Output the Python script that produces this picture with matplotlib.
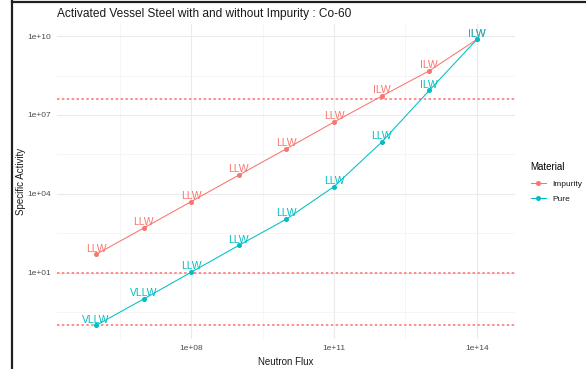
import numpy as np
import matplotlib
matplotlib.use("Agg")
import matplotlib.pyplot as plt
from matplotlib.lines import Line2D

plt.rcParams['font.family'] = ['Liberation Sans', 'DejaVu Sans']

# Neutron flux values and specific activity per material
flux = [1e6, 1e7, 1e8, 1e9, 1e10, 1e11, 1e12, 1e13, 1e14]
impurity_activity = [50, 500, 5100, 5.2e4, 5.2e5, 5.4e6, 5.2e7, 4.8e8, 7.5e9]
pure_activity = [0.1, 1.0, 10.5, 110, 1100, 1.9e4, 9.3e5, 8.6e7, 7.5e9]
impurity_class = ["LLW", "LLW", "LLW", "LLW", "LLW", "LLW", "ILW", "ILW", "ILW"]
pure_class = ["VLLW", "VLLW", "LLW", "LLW", "LLW", "LLW", "LLW", "ILW", "ILW"]
thresholds = [0.1, 10, 4e7]

materials = ["Impurity", "Pure"]
colors = {"Impurity": "#F8766D", "Pure": "#00BFC4"}

W, H = 586, 369
fig = plt.figure(figsize=(W / 100, H / 100), dpi=100)
fig.patch.set_facecolor("white")

left, right, top, bottom = 57, 515, 24, 339
ax = fig.add_axes([left / W, 1 - bottom / H, (right - left) / W, (bottom - top) / H])
ax.set_facecolor("white")
ax.set_xscale("log")
ax.set_yscale("log")
ax.set_xlim(10 ** 5.18, 10 ** 14.8)
ax.set_ylim(10 ** -1.52, 10 ** 10.46)

# grid: major and minor lines in the ggplot minimal style
for v in [1e8, 1e11, 1e14]:
    ax.axvline(v, color="#EBEBEB", lw=0.8, zorder=0)
for v in [10 ** 6.5, 10 ** 9.5, 10 ** 12.5]:
    ax.axvline(v, color="#F2F2F2", lw=0.5, zorder=0)
for v in [1e1, 1e4, 1e7, 1e10]:
    ax.axhline(v, color="#EBEBEB", lw=0.8, zorder=0)
for v in [10 ** -0.5, 10 ** 2.5, 10 ** 5.5, 10 ** 8.5]:
    ax.axhline(v, color="#F2F2F2", lw=0.5, zorder=0)

for t in thresholds:
    ax.axhline(t, color="#FF6F6F", lw=1.1, ls=(0, (1.6, 1.6)), zorder=1)

series = {"Impurity": (impurity_activity, impurity_class),
          "Pure": (pure_activity, pure_class)}
for m in materials:
    vals, cls = series[m]
    ax.plot(flux, vals, color=colors[m], lw=0.75, marker="o", ms=2.6,
            mec=colors[m], mfc=colors[m], zorder=3)
    for x, y, c in zip(flux, vals, cls):
        ax.annotate(c, (x, y), xytext=(0, 0.5), textcoords="offset points",
                    ha="center", va="bottom", fontsize=7.5, color=colors[m],
                    zorder=4)

ax.set_xticks([1e8, 1e11, 1e14])
ax.set_xticklabels(["1e+08", "1e+11", "1e+14"])
ax.set_yticks([1e1, 1e4, 1e7, 1e10])
ax.set_yticklabels(["1e+01", "1e+04", "1e+07", "1e+10"])
ax.minorticks_off()
ax.tick_params(length=0, labelsize=6, labelcolor="#4D4D4D", pad=4)
for s in ax.spines.values():
    s.set_visible(False)

ax.set_xlabel("Neutron Flux", fontsize=7, color="#1A1A1A", labelpad=4)
ax.set_ylabel("Specific Activity", fontsize=7, color="#1A1A1A", labelpad=1)
ax.set_title("Activated Vessel Steel with and without Impurity : Co-60",
             loc="left", fontsize=8.6, color="#1A1A1A", pad=5)

handles = [Line2D([], [], color=colors[m], lw=0.75, marker="o", ms=2.6)
           for m in materials]
leg = fig.legend(handles, materials, title="Material", loc="upper left",
                 bbox_to_anchor=(523 / W, 1 - 155 / H), frameon=False,
                 fontsize=6, title_fontsize=7, handlelength=1.8,
                 labelspacing=0.9, alignment="left")
for txt in leg.get_texts():
    txt.set_color("#1A1A1A")

# window frame
fig.add_artist(Line2D([12 / W, 12 / W], [0, 1 - 1 / H], transform=fig.transFigure,
                      color="#202020", lw=1.6))
fig.add_artist(Line2D([12 / W, 1], [1 - 2 / H, 1 - 2 / H], transform=fig.transFigure,
                      color="#202020", lw=1.6))

fig.savefig("out.png", dpi=100, facecolor="white")
